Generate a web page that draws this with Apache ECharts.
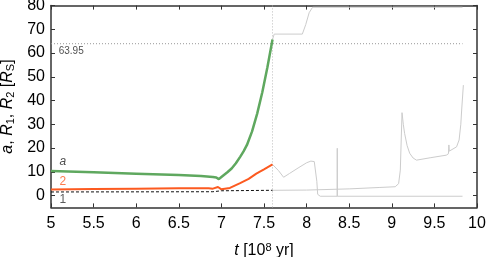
<!DOCTYPE html>
<html><head><meta charset="utf-8">
<script src="https://cdn.jsdelivr.net/npm/echarts@6/dist/echarts.min.js"></script>
<style>html,body{margin:0;padding:0;background:#fff}#c{width:491px;height:257px}</style>
</head><body><div id="c"></div>
<script>
// ---- data ----
const yTickValues = [0, 10, 20, 30, 40, 50, 60, 70, 80];
const tA = [5.0, 5.5, 6.0, 6.5, 6.76, 6.9, 6.94, 6.97, 7.0, 7.02, 7.07, 7.12, 7.17, 7.22, 7.26, 7.30, 7.36, 7.42, 7.48, 7.54, 7.6];
const vA = [10.3, 9.8, 9.2, 8.6, 8.2, 7.8, 7.6, 6.9, 7.8, 8.6, 9.8, 11.4, 13.6, 16.3, 18.6, 21.3, 27.0, 34.5, 43.5, 54.0, 65.7];
const tR2 = [5.0, 5.5, 6.0, 6.5, 6.85, 6.9, 6.96, 7.0, 7.02, 7.1, 7.22, 7.32, 7.41, 7.5, 7.6];
const vR2 = [2.5, 2.7, 2.9, 3.1, 3.1, 2.9, 3.6, 2.6, 2.3, 3.2, 5.2, 7.0, 9.2, 11.0, 13.1];
const tR1 = [5.0, 6.9, 7.0, 7.6];
const vR1 = [1.5, 1.6, 2.0, 2.2];
const tAgrey = [7.6, 7.62, 7.95, 7.99, 8.03, 8.07, 9.83];
const vAgrey = [65.7, 68, 68, 72, 77, 79.3, 79.3];
const tR2grey = [7.6, 7.62, 7.67, 7.73, 7.8, 7.9, 8.0, 8.05, 8.09, 8.11, 8.12, 8.13, 8.16, 8.359, 8.36, 8.361, 9.83];
const vR2grey = [13.1, 13.4, 10.5, 7.7, 9.3, 11.6, 13.8, 14.5, 14.3, 13.5, 6.0, 0.5, -0.3, -0.3, 19.9, -0.3, -0.3];
const tR1grey = [7.6, 8.0, 8.5, 8.86, 9.04, 9.08, 9.1, 9.12, 9.135, 9.15, 9.18, 9.21, 9.25, 9.29, 9.45, 9.64, 9.665, 9.67, 9.675, 9.76, 9.79, 9.81, 9.82, 9.84];
const vR1grey = [2.2, 2.3, 2.8, 3.4, 3.7, 5.0, 10.7, 34.9, 30.0, 26.2, 21.0, 17.8, 15.8, 14.9, 15.9, 17.0, 17.6, 21.3, 18.7, 20.5, 23.4, 30.0, 36.0, 46.5];
const tMerge = 7.6;
const rLobe = 63.95;
const rLobeEnd = 9.83;
const labelA = {t: 5.14, v: 14.1, text: 'a'};
const label2 = {t: 5.14, v: 5.8, text: '2'};
const label1 = {t: 5.14, v: -1.9, text: '1'};
const labelLobe = {t: 5.09, v: 60.8, text: '63.95'};

const zip = (ts, vs) => ts.map((t, i) => [t, vs[i]]);
const FONT = 'Liberation Sans';
const axisColor = '#333';

const chart = echarts.init(document.getElementById('c'), null, {renderer: 'canvas'});
const lineS = (data, color, width, type, z) => ({
  type: 'line', data, showSymbol: false, symbol: 'none', z: z || 2, animation: false,
  lineStyle: {color, width, type: type || 'solid'}, clip: true
});
const textS = (l, color, italic) => ({
  type: 'scatter', data: [[l.t, l.v]], symbolSize: 0, z: 5, animation: false,
  label: {show: true, formatter: l.text, position: 'inside', color, fontSize: 12,
    fontStyle: italic ? 'italic' : 'normal', fontFamily: FONT}
});

chart.setOption({
  backgroundColor: '#fff',
  grid: {left: 51, right: 14, top: 5.6, bottom: 49.6, containLabel: false, outerBoundsMode: 'none'},
  xAxis: [{
    type: 'value', min: 5, max: 10, interval: 0.5, position: 'bottom',
    axisLine: {show: true, onZero: false, lineStyle: {color: axisColor, width: 1.5}},
    axisTick: {show: true, inside: true, length: 4, lineStyle: {color: axisColor}},
    axisLabel: {color: '#000', fontSize: 16, fontFamily: FONT, margin: 8},
    splitLine: {show: false},
    name: '{i|t} [10{sup|8} yr]', nameLocation: 'middle', nameGap: 35,
    nameTextStyle: {color: '#000', fontSize: 16, fontFamily: FONT,
      rich: {i: {fontStyle: 'italic', fontSize: 16, fontFamily: FONT, color: '#000'},
             sup: {fontSize: 11, fontFamily: FONT, color: '#000', verticalAlign: 'top', padding: [0, 0, 6, 0]}}}
  }, {
    type: 'value', min: 5, max: 10, interval: 0.5, position: 'top',
    axisLine: {show: true, onZero: false, lineStyle: {color: axisColor, width: 1.5}},
    axisTick: {show: true, inside: true, length: 4, lineStyle: {color: axisColor}},
    axisLabel: {show: false}, splitLine: {show: false}
  }],
  yAxis: [{
    type: 'value', min: -5, max: 80, position: 'left',
    axisLine: {show: true, onZero: false, lineStyle: {color: axisColor, width: 1.5}},
    axisTick: {show: true, inside: true, length: 4, lineStyle: {color: axisColor}, customValues: yTickValues},
    axisLabel: {color: '#000', fontSize: 16, fontFamily: FONT, margin: 6, customValues: yTickValues},
    splitLine: {show: false},
    name: '{i|a}, {i|R}{sub|1}, {i|R}{sub|2} [{i|R}{sub|S}]', nameLocation: 'middle', nameGap: 31, nameRotate: 90,
    nameTextStyle: {color: '#000', fontSize: 16, fontFamily: FONT,
      rich: {i: {fontStyle: 'italic', fontSize: 16, fontFamily: FONT, color: '#000'},
             sub: {fontSize: 11, fontFamily: FONT, color: '#000', verticalAlign: 'bottom', padding: [6, 0, 0, 0]}}}
  }, {
    type: 'value', min: -5, max: 80, position: 'right',
    axisLine: {show: true, onZero: false, lineStyle: {color: axisColor, width: 1.5}},
    axisTick: {show: true, inside: true, length: 4, lineStyle: {color: axisColor}, customValues: yTickValues},
    axisLabel: {show: false}, splitLine: {show: false}
  }],
  series: [
    lineS([[tMerge, -5], [tMerge, 80]], '#bbb', 1, [1, 2], 1),
    lineS([[5, rLobe], [rLobeEnd, rLobe]], '#999', 1, [1, 2], 1),
    lineS(zip(tAgrey, vAgrey), '#ccc', 1),
    lineS(zip(tR2grey, vR2grey), '#ccc', 1),
    lineS(zip(tR1grey, vR1grey), '#ccc', 1),
    lineS(zip(tA, vA), '#5fa85f', 2.5, 'solid', 3),
    lineS(zip(tR2, vR2), '#fc5a20', 2, 'solid', 3),
    lineS(zip(tR1, vR1), '#111', 1, [3, 2], 3),
    textS(labelA, '#222', true),
    textS(label2, '#fc5a20', false),
    textS(label1, '#333', false),
    Object.assign(textS(labelLobe, '#222', false), {label: {show: true, formatter: labelLobe.text, position: 'right', distance: 0, color: '#222', fontSize: 10, fontFamily: FONT}})
  ]
});
</script></body></html>
